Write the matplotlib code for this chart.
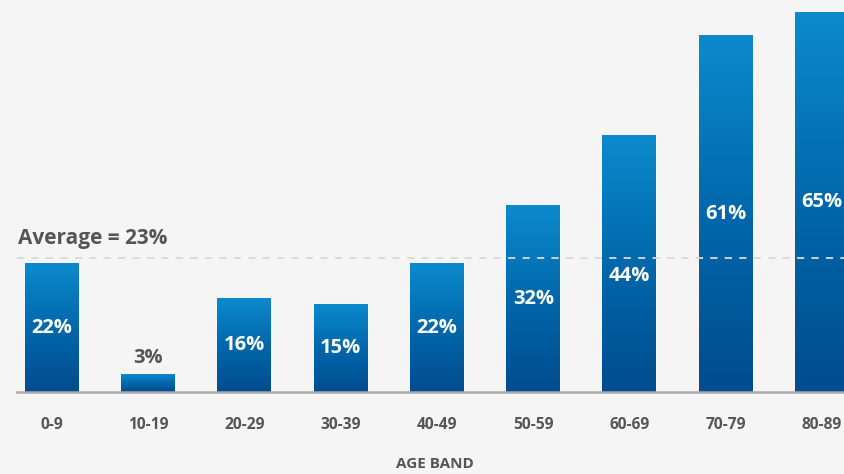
import numpy as np
import matplotlib
matplotlib.use("Agg")
import matplotlib.pyplot as plt
from matplotlib.colors import LinearSegmentedColormap

categories = ["0-9", "10-19", "20-29", "30-39", "40-49", "50-59", "60-69", "70-79", "80-89"]
values = [22, 3, 16, 15, 22, 32, 44, 61, 65]
average = 23
x_title = "AGE BAND"

BG = "#f5f5f5"
TXT = "#555555"
plt.rcParams['font.family'] = ['Open Sans', 'DejaVu Sans']

fig = plt.figure(figsize=(8.44, 4.74), dpi=100, facecolor=BG)
ax = fig.add_axes([17/844, 1 - 392/474, 827/844, 392/474])
ax.set_facecolor(BG)

xs = np.arange(len(values))
width = 0.561
ax.set_xlim(-0.3636, 8.229)
ax.set_ylim(0, 392/5.84)

cmap = LinearSegmentedColormap.from_list("g", ["#004c8e", "#0068ab", "#0c8acd"])
grad = np.linspace(0, 1, 256).reshape(-1, 1)
for x, v in zip(xs, values):
    ax.imshow(grad, extent=[x - width/2, x + width/2, 0, v], origin="lower",
              aspect="auto", cmap=cmap, zorder=2, interpolation="bilinear")

# labels
for x, v in zip(xs, values):
    if v < 8:
        ax.text(x, v + 2.8, f"{v}%", ha="center", va="center", color=TXT,
                fontsize=14.5, fontweight="bold", zorder=4)
    else:
        y = v / 2
        if abs(y - average) < 2.5:
            y = average - 3.2
        ax.text(x, y, f"{v}%", ha="center", va="center", color="white",
                fontsize=14.5, fontweight="bold", zorder=4)

ax.axhline(average, color="#d9d9d9", lw=1.3, ls=(0, (4, 4)), zorder=3)
ax.text(1/827, average + 1.5, f"Average = {average}%", transform=ax.get_yaxis_transform(),
        ha="left", va="bottom", color=TXT, fontsize=15, fontweight="bold")

for s in ["top", "right", "left"]:
    ax.spines[s].set_visible(False)
ax.spines["bottom"].set_color("#aaaaaa")
ax.spines["bottom"].set_linewidth(1.8)
ax.spines["bottom"].set_zorder(5)
ax.set_yticks([])
ax.set_xticks(xs)
ax.set_xticklabels(categories, color=TXT, fontsize=11.2, fontweight="bold")
ax.tick_params(axis="x", length=0, pad=18)
ax.set_xlabel(x_title, color=TXT, fontsize=11, fontweight="bold", va="center")
ax.xaxis.set_label_coords((435 - 17)/827, -(464 - 392)/392)

fig.savefig("out.png", dpi=100, facecolor=BG)
